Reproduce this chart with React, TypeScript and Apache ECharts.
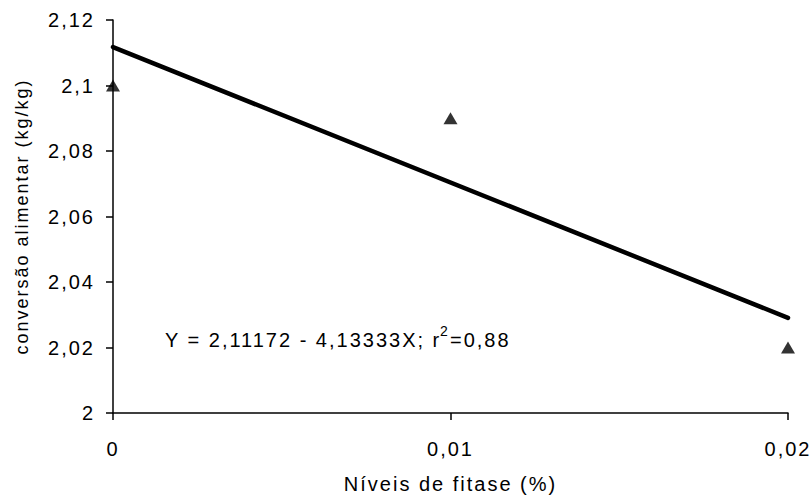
import React, { useEffect, useRef } from "react";
import * as echarts from "echarts";

const xLevels = [0, 0.01, 0.02];
const observed = [2.1, 2.09, 2.02];
const interceptB0 = 2.11172;
const slopeB1 = -4.13333;
const yTicks = [2, 2.02, 2.04, 2.06, 2.08, 2.1, 2.12];
const xTicks = [0, 0.01, 0.02];
const equationMain = "Y = 2,11172 - 4,13333X; r";
const equationSup = "2";
const equationRest = "=0,88";

const fmt = (v: number) => String(Number(v.toFixed(4))).replace(".", ",");

export default function App() {
  const ref = useRef<HTMLDivElement>(null);
  useEffect(() => {
    const chart = echarts.init(ref.current!, null, { renderer: "svg" });
    const font = "Liberation Sans, Arial, sans-serif";
    const lineData = [xTicks[0], xTicks[xTicks.length - 1]].map((x) => [x, interceptB0 + slopeB1 * x]);
    chart.setOption({
      animation: false,
      backgroundColor: "#fff",
      grid: { left: 113, top: 20, right: 24, bottom: 83 },
      xAxis: {
        type: "value",
        min: xTicks[0],
        max: xTicks[xTicks.length - 1],
        interval: 0.01,
        name: "Níveis de fitase (%)",
        nameLocation: "middle",
        nameGap: 61,
        nameTextStyle: { color: "#000", fontSize: 20, fontFamily: font },
        axisLine: { lineStyle: { color: "#000", width: 1.5 } },
        axisTick: { show: true, length: 7, lineStyle: { color: "#000", width: 1.5 } },
        axisLabel: { color: "#000", fontSize: 20, fontFamily: font, margin: 26, formatter: fmt },
        splitLine: { show: false },
      },
      yAxis: {
        type: "value",
        min: yTicks[0],
        max: yTicks[yTicks.length - 1],
        interval: 0.02,
        name: "conversão alimentar (kg/kg)",
        nameLocation: "middle",
        nameGap: 82,
        nameTextStyle: { color: "#000", fontSize: 18, fontFamily: font },
        axisLine: { show: true, lineStyle: { color: "#000", width: 1.5 } },
        axisTick: { show: true, length: 7, lineStyle: { color: "#000", width: 1.5 } },
        axisLabel: { color: "#000", fontSize: 20, fontFamily: font, margin: 18, formatter: fmt },
        splitLine: { show: false },
      },
      series: [
        {
          type: "line",
          data: lineData,
          symbol: "none",
          lineStyle: { color: "#000", width: 4.5, cap: "round" },
          z: 2,
        },
        {
          type: "scatter",
          data: xLevels.map((x, i) => [x, observed[i]]),
          symbol: "triangle",
          symbolSize: [14, 12],
          itemStyle: { color: "#000" },
          z: 3,
        },
      ],
      graphic: [
        {
          type: "text",
          x: 165,
          y: 330,
          style: { text: equationMain, fontSize: 20, fontFamily: font, fill: "#000", verticalAlign: "top" },
        },
        {
          type: "text",
          x: 440,
          y: 324,
          style: { text: equationSup, fontSize: 14, fontFamily: font, fill: "#000", verticalAlign: "top" },
        },
        {
          type: "text",
          x: 450,
          y: 330,
          style: { text: equationRest, fontSize: 20, fontFamily: font, fill: "#000", verticalAlign: "top" },
        },
      ],
    });
    return () => chart.dispose();
  }, []);
  return (
    <>
      <style>{`body{margin:0}svg text{letter-spacing:2px}`}</style>
      <div ref={ref} style={{ width: 812, height: 499 }} />
    </>
  );
}
